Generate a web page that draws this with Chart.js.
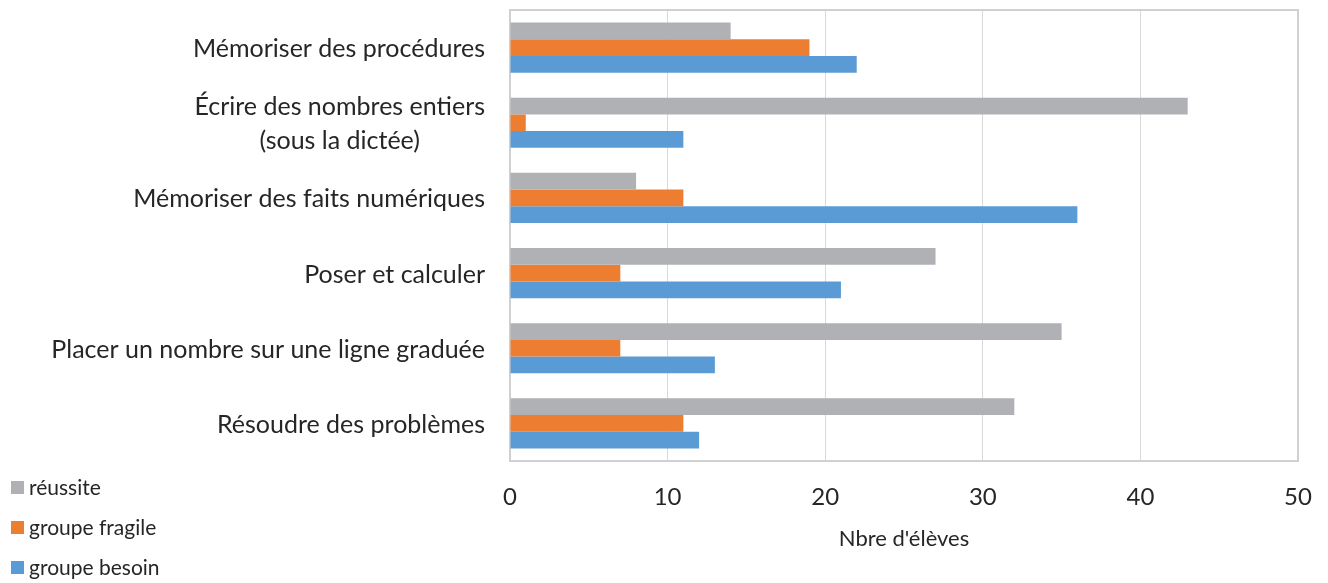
<!DOCTYPE html>
<html>
<head>
<meta charset="utf-8">
<script src="https://cdn.jsdelivr.net/npm/chart.js@4/dist/chart.umd.min.js"></script>
<style>
html,body{margin:0;padding:0;background:#fff;}
#wrap{position:relative;width:1328px;height:583px;}
</style>
</head>
<body>
<div id="wrap"><canvas id="c" width="1328" height="583"></canvas></div>
<script>
const categories = [
  ["Mémoriser des procédures"],
  ["Écrire des nombres entiers", "(sous la dictée)"],
  ["Mémoriser des faits numériques"],
  ["Poser et calculer"],
  ["Placer un nombre sur une ligne graduée"],
  ["Résoudre des problèmes"]
];
const seriesNames = ["réussite", "groupe fragile", "groupe besoin"];
const reussite = [14, 43, 8, 27, 35, 32];
const fragile  = [19, 1, 11, 7, 7, 11];
const besoin   = [22, 11, 36, 21, 13, 12];
const xTicks = [0, 10, 20, 30, 40, 50];
const axisTitle = "Nbre d'élèves";

const colors = ["#B0B1B4", "#ED7D31", "#5B9BD5"];
const FONT = "Lato, 'Open Sans', sans-serif";
const TEXT = "#262626";

const frame = {
  id: 'frame',
  beforeDatasetsDraw(chart) {
    const {ctx, chartArea: a} = chart;
    ctx.save();
    ctx.strokeStyle = '#D0D0D0';
    ctx.lineWidth = 2;
    ctx.strokeRect(a.left, a.top, a.right - a.left, a.bottom - a.top);
    ctx.restore();
  },
  afterDraw(chart) {
    const {ctx} = chart;
    const y = chart.scales.y;
    ctx.save();
    // category labels
    ctx.font = "25px " + FONT;
    ctx.fillStyle = TEXT;
    ctx.textBaseline = 'middle';
    ctx.textAlign = 'center';
    const right = 485, lh = 34;
    categories.forEach((lines, i) => {
      const cy = y.getPixelForValue(i) + 1.5;
      const w = Math.max(...lines.map(l => ctx.measureText(l).width));
      const cx = right - w / 2;
      const y0 = cy - (lines.length - 1) * lh / 2;
      lines.forEach((l, k) => ctx.fillText(l, cx, y0 + k * lh));
    });
    // legend
    ctx.font = "21px " + FONT;
    ctx.textAlign = 'left';
    const ly = [487.5, 527.5, 567.5];
    seriesNames.forEach((n, i) => {
      ctx.fillStyle = colors[i];
      ctx.fillRect(11, ly[i] - 6.5, 13, 13);
      ctx.fillStyle = TEXT;
      ctx.fillText(n, 29, ly[i] + 1);
    });
    ctx.restore();
  }
};

new Chart(document.getElementById('c'), {
  type: 'bar',
  data: {
    labels: categories.map(c => c.join(' ')),
    datasets: [
      {label: seriesNames[0], data: reussite, backgroundColor: colors[0]},
      {label: seriesNames[1], data: fragile, backgroundColor: colors[1]},
      {label: seriesNames[2], data: besoin, backgroundColor: colors[2]}
    ]
  },
  options: {
    indexAxis: 'y',
    responsive: false,
    animation: false,
    devicePixelRatio: 1,
    layout: {padding: {left: 0, right: 30, top: 10, bottom: 0}},
    datasets: {bar: {barPercentage: 1, categoryPercentage: 0.667}},
    plugins: {legend: {display: false}, tooltip: {enabled: false}},
    scales: {
      x: {
        min: 0, max: 50,
        afterBuildTicks(s) { s.ticks = xTicks.map(v => ({value: v})); },
        grid: {color: '#D9D9D9', lineWidth: 1, drawTicks: false},
        border: {display: false},
        ticks: {font: {family: FONT, size: 24}, color: TEXT, padding: 22},
        title: {display: true, text: axisTitle, font: {family: FONT, size: 22}, color: TEXT, padding: {top: 0, bottom: 31}},
        afterFit(s) { s.height = 122; s.paddingLeft = 0; s.paddingRight = 0; }
      },
      y: {
        grid: {display: false, drawTicks: false},
        border: {display: false},
        ticks: {display: false},
        afterFit(s) { s.width = 510; s.paddingTop = 0; s.paddingBottom = 0; }
      }
    }
  },
  plugins: [frame]
});
</script>
</body>
</html>
